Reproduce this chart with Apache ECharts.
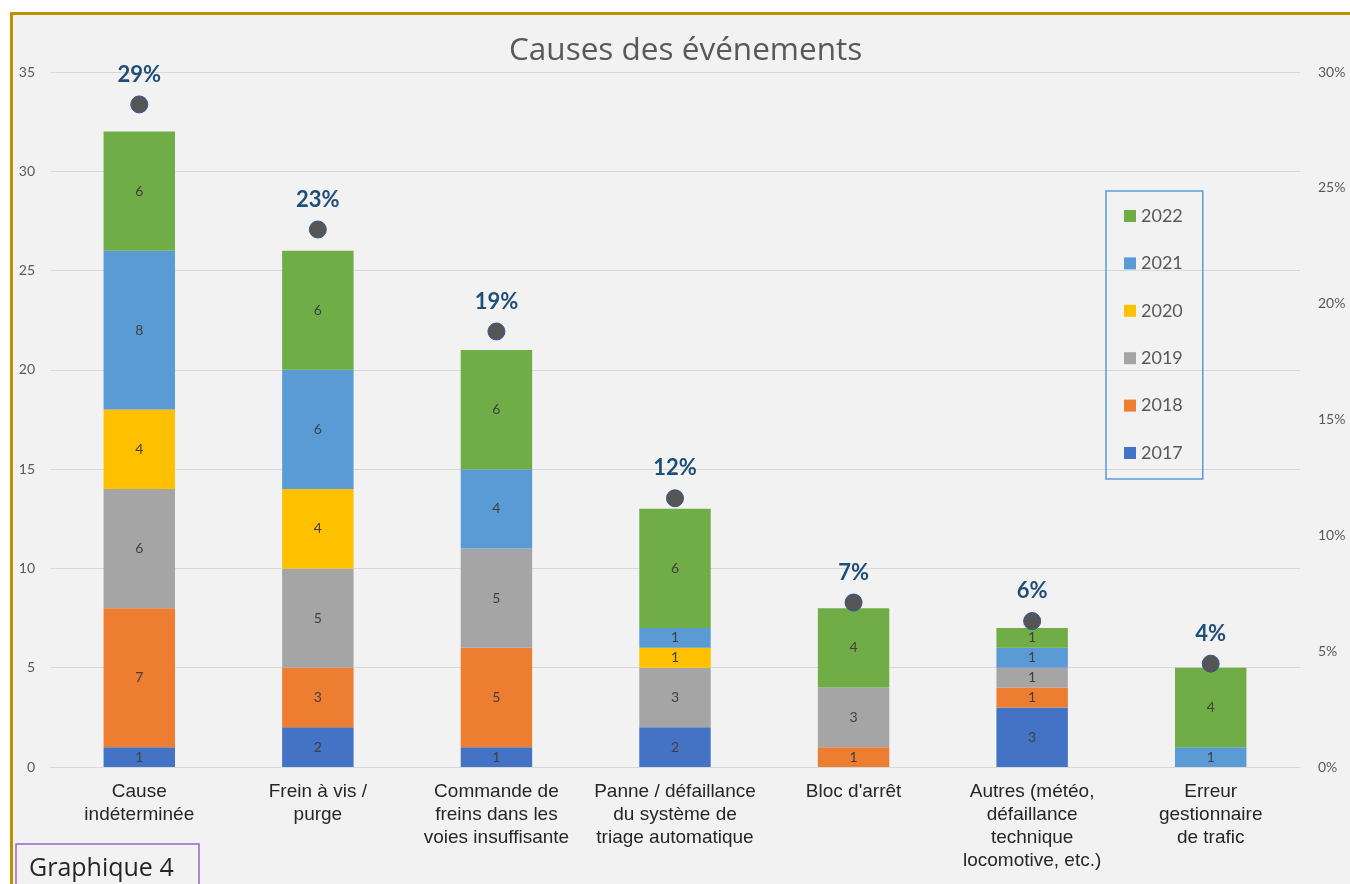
<!DOCTYPE html>
<html>
<head>
<meta charset="utf-8">
<script src="https://cdn.jsdelivr.net/npm/echarts@6/dist/echarts.min.js"></script>
<style>
  html, body { margin: 0; padding: 0; background: #ffffff; width: 1350px; height: 884px; overflow: hidden; }
  #frame { position: absolute; left: 10px; top: 12px; width: 1400px; height: 900px; background: #f2f2f2; border-top: 3px solid #bf9000; border-left: 3px solid #bf9000; box-sizing: border-box; }
  #chart { position: absolute; left: 0; top: 0; width: 1350px; height: 884px; }
</style>
</head>
<body>
<div id="frame"></div>
<div id="chart"></div>
<script>
const categories = [
  "Cause\nindéterminée",
  "Frein à vis /\npurge",
  "Commande de\nfreins dans les\nvoies insuffisante",
  "Panne / défaillance\ndu système de\ntriage automatique",
  "Bloc d'arrêt",
  "Autres (météo,\ndéfaillance\ntechnique\nlocomotive, etc.)",
  "Erreur\ngestionnaire\nde trafic"
];
const years = ["2017", "2018", "2019", "2020", "2021", "2022"];
const v2017 = [1, 2, 1, 2, null, 3, null];
const v2018 = [7, 3, 5, null, 1, 1, null];
const v2019 = [6, 5, 5, 3, 3, 1, null];
const v2020 = [4, 4, null, 1, null, null, null];
const v2021 = [8, 6, 4, 1, null, 1, 1];
const v2022 = [6, 6, 6, 6, 4, 1, 4];
const shares = [0.286, 0.232, 0.188, 0.116, 0.071, 0.063, 0.0446];
const leftTicks = { min: 0, max: 35, interval: 5 };
const rightTicks = { min: 0, max: 0.30, interval: 0.05 };

const yearValues = [v2017, v2018, v2019, v2020, v2021, v2022];
const colors = ["#4472c4", "#ed7d31", "#a5a5a5", "#ffc000", "#5b9bd5", "#70ad47"];

const barSeries = years.map((y, i) => ({
  name: y,
  type: "bar",
  stack: "total",
  barWidth: "40%",
  data: yearValues[i],
  itemStyle: { color: colors[i] },
  label: {
    show: true,
    position: "inside",
    color: "#404040",
    fontFamily: "Lato",
    fontSize: 14,
    formatter: p => (p.value ? String(p.value) : "")
  },
  emphasis: { disabled: true }
}));

const chart = echarts.init(document.getElementById("chart"), null, { renderer: "canvas" });
chart.setOption({
  backgroundColor: "transparent",
  animation: false,
  title: {
    text: "Causes des événements",
    left: 504,
    top: 30,
    textStyle: { fontFamily: "Open Sans", fontSize: 31.5, fontWeight: "normal", color: "#595959" }
  },
  legend: {
    orient: "vertical",
    left: 1106,
    top: 191,
    data: years.slice().reverse(),
    icon: "rect",
    itemWidth: 12,
    itemHeight: 12,
    itemGap: 29.4,
    padding: [16, 20, 17, 18],
    borderColor: "#5b9bd5",
    borderWidth: 1.5,
    textStyle: { fontFamily: "Lato", fontSize: 18, color: "#595959" },
    selectedMode: false
  },
  grid: { left: 50, right: 50, top: 72, bottom: 117, containLabel: false },
  xAxis: {
    type: "category",
    data: categories,
    axisLine: { show: true, lineStyle: { color: "#d9d9d9", width: 1 } },
    axisTick: { show: false },
    axisLabel: {
      interval: 0,
      margin: 13,
      color: "#262626",
      fontFamily: "Liberation Sans",
      fontSize: 19,
      lineHeight: 23
    }
  },
  yAxis: [
    {
      type: "value",
      min: leftTicks.min, max: leftTicks.max, interval: leftTicks.interval,
      axisLine: { show: false },
      axisTick: { show: false },
      splitLine: { lineStyle: { color: "#d9d9d9", width: 1 } },
      axisLabel: { color: "#595959", fontFamily: "Lato", fontSize: 14, margin: 15 }
    },
    {
      type: "value",
      position: "right",
      min: rightTicks.min, max: rightTicks.max, interval: rightTicks.interval,
      axisLine: { show: false },
      axisTick: { show: false },
      splitLine: { show: false },
      axisLabel: {
        color: "#595959", fontFamily: "Lato", fontSize: 14, margin: 18,
        formatter: v => Math.round(v * 100) + "%"
      }
    }
  ],
  series: barSeries.concat([{
    name: "Part",
    type: "scatter",
    yAxisIndex: 1,
    data: shares,
    symbol: "circle",
    symbolSize: 17,
    itemStyle: { color: "#555555", borderColor: "#2f5597", borderWidth: 1, opacity: 1 },
    label: {
      show: true,
      position: "top",
      distance: 10,
      color: "#1f4e79",
      fontFamily: "Lato",
      fontWeight: "bold",
      fontSize: 22,
      formatter: p => Math.round(p.value * 100) + "%"
    },
    emphasis: { disabled: true },
    z: 5
  }]),
  graphic: [
    {
      type: "rect",
      shape: { x: 16, y: 844, width: 183, height: 60 },
      style: { fill: "#f2f2f2", stroke: "#9966cc", lineWidth: 1.5 }
    },
    {
      type: "text",
      x: 29, y: 869,
      style: { text: "Graphique 4", fontFamily: "Open Sans", fontSize: 25, fill: "#262626", verticalAlign: "middle" }
    }
  ]
});
</script>
</body>
</html>
